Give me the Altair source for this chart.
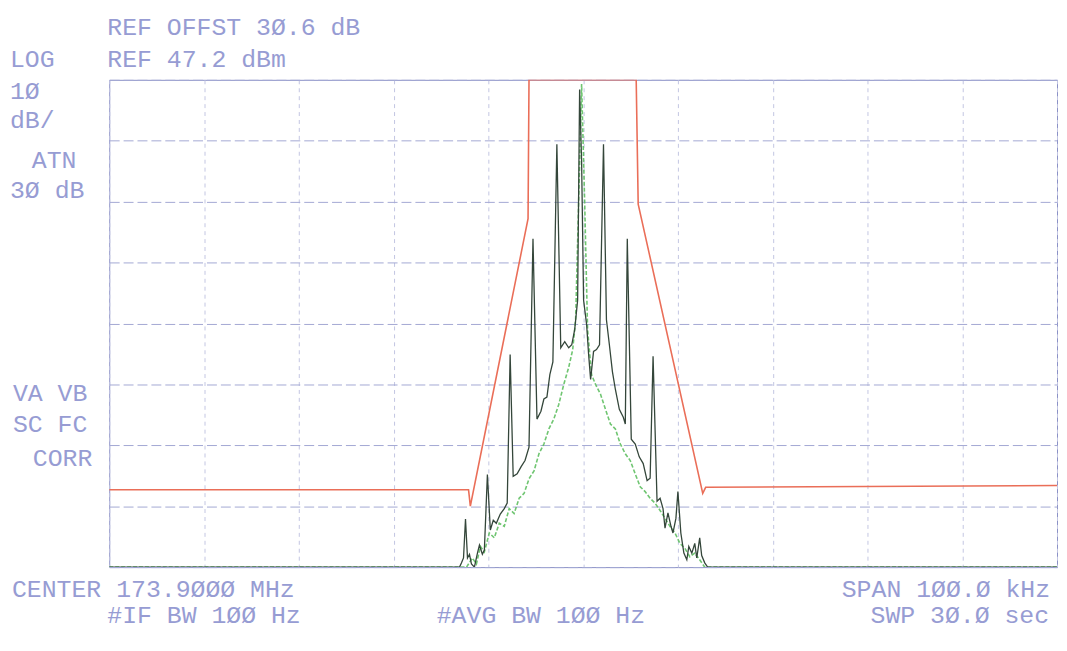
import altair as alt
import pandas as pd

# ---- values: frequency offset from centre (kHz), level (dBm) ----
mask_khz = [-50, -12.09, -11.9, -5.81, -5.71, 5.6, 5.81, 12.62, 12.93, 50]
mask_dbm = [-20.1, -20.1, -22.8, 24.4, 47.2, 47.2, 26.8, -20.7, -19.7, -19.4]

trace_khz = [-50, -13.04, -12.83, -12.62, -12.41, -12.20, -11.99, -11.78, -11.47, -11.15,
             -10.94, -10.63, -10.42, -10.10, -9.79, -9.48, -9.16, -8.74, -8.32, -8.01,
             -7.70, -7.38, -6.96, -6.54, -6.13, -5.71, -5.29, -4.87, -4.45, -4.14,
             -3.82, -3.51, -3.19, -2.77, -2.36, -1.94, -1.52, -1.20, -0.89, -0.58,
             -0.37, -0.16, 0.05, 0.37, 0.58, 0.79, 1.10, 1.41, 1.73, 2.15,
             2.46, 2.77, 3.09, 3.40, 3.82, 4.24, 4.45, 4.66, 5.08, 5.50,
             5.92, 6.34, 6.75, 7.07, 7.38, 7.80, 8.12, 8.43, 8.64, 8.95,
             9.27, 9.48, 9.79, 10.0, 10.31, 10.63, 10.94, 11.15, 11.47, 11.78,
             11.99, 12.30, 12.51, 12.83, 13.14, 50]
trace_dbm = [-32.8, -32.8, -32.1, -31.3, -24.9, -31.3, -30.7, -32.3, -32.8, -30.5,
             -29.2, -30.7, -30.0, -17.6, -26.7, -25.1, -25.6, -24.1, -23.2, -22.3,
             2.1, -17.9, -17.5, -16.3, -15.3, -13.1, 21.1, -8.5, -7.2, -5.2,
             -4.9, -1.2, 0.9, 36.6, 3.2, 4.2, 3.2, 3.7, 6.2, 11.0,
             45.6, 33.8, 11.0, 7.0, 2.1, -2.0, 2.6, 2.9, 3.7, 36.6,
             7.8, 3.7, -0.7, -3.6, -6.9, -8.2, -9.3, 21.1, -11.8, -12.6,
             -14.7, -15.8, -18.6, -18.2, 1.8, -22.0, -21.5, -23.2, -26.4, -23.9,
             -26.1, -27.2, -24.8, -20.4, -27.2, -30.5, -31.6, -29.4, -30.5, -28.9,
             -31.3, -28.0, -30.9, -32.1, -32.8, -32.8]

avg_khz = [-50, -12.30, -11.68, -11.26, -10.84, -10.42, -9.90, -9.37, -8.85, -8.32,
           -7.80, -7.28, -6.75, -6.23, -5.71, -5.18, -4.66, -4.14, -3.61, -3.09,
           -2.57, -2.04, -1.52, -1.10, -0.79, -0.47, -0.16, 0.16, 0.47, 0.89,
           1.31, 1.83, 2.36, 2.88, 3.40, 3.93, 4.45, 4.97, 5.50, 6.02,
           6.54, 7.07, 7.59, 8.12, 8.64, 9.16, 9.69, 10.21, 10.73, 11.26,
           11.78, 12.30, 12.83, 50]
avg_dbm = [-32.8, -32.8, -31.3, -32.3, -29.4, -30.3, -27.2, -28.0, -25.6, -26.1,
           -23.2, -24.0, -21.5, -20.7, -18.3, -17.0, -14.2, -12.6, -10.1, -8.5,
           -6.1, -2.8, 0.0, 2.9, 7.8, 27.3, 46.5, 27.3, 6.2, -1.2,
           -2.8, -4.4, -6.9, -9.3, -10.1, -12.6, -14.2, -15.3, -17.5, -19.6,
           -20.4, -21.5, -22.3, -23.5, -24.8, -26.1, -27.2, -28.9, -29.7, -31.1,
           -30.5, -31.6, -32.8, -32.8]

x_grid = [-50, -40, -30, -20, -10, 0, 10, 20, 30, 40, 50]
y_grid = [-32.8, -22.8, -12.8, -2.8, 7.2, 17.2, 27.2, 37.2, 47.2]

labels = ["REF OFFST 3Ø.6 dB", "LOG", "REF 47.2 dBm", "1Ø", "dB/", "ATN", "3Ø dB",
          "VA VB", "SC FC", "CORR",
          "CENTER 173.9ØØØ MHz", "SPAN 1ØØ.Ø kHz",
          "#IF BW 1ØØ Hz", "#AVG BW 1ØØ Hz", "SWP 3Ø.Ø  sec"]

# ---- layout (pixels relative to the plot area) ----
W, H = 955, 491
label_layout = [
    (-2, -45, "left"), (-100, -13, "left"), (-2, -13, "left"),
    (-100, 19, "left"), (-100, 49, "left"), (-78, 89, "left"), (-100, 119, "left"),
    (-97, 324, "left"), (-97, 355, "left"), (-77, 389, "left"),
    (-98, 521, "left"), (948, 521, "right"),
    (-2, 547, "left"), (330, 547, "left"), (947, 547, "right"),
]
TEXT_COLOR = "#8c92cf"
FONT = "Liberation Mono"
FONT_SIZE = 25

def frame(xs, ys):
    return pd.DataFrame({"khz": xs, "dbm": ys, "i": range(len(xs))})

x_axis = alt.Axis(values=x_grid, grid=True, labels=False, ticks=False, domain=False,
                  title=None, gridColor="#c3c6e2", gridDash=[4, 4], gridWidth=1)
y_axis = alt.Axis(values=y_grid, grid=True, labels=False, ticks=False, domain=False,
                  title=None, gridColor="#a3a8d4", gridDash=[10, 4], gridWidth=1)
xs = alt.Scale(domain=[-50, 50], nice=False, zero=False)
ys = alt.Scale(domain=[-32.8, 47.2], nice=False, zero=False)

def line_layer(df, color, width, dash=None, opacity=1.0):
    kw = dict(color=color, strokeWidth=width, opacity=opacity, clip=True)
    if dash:
        kw["strokeDash"] = dash
    return alt.Chart(df).mark_line(**kw).encode(
        x=alt.X("khz:Q", scale=xs, axis=x_axis),
        y=alt.Y("dbm:Q", scale=ys, axis=y_axis),
        order="i:Q",
    )

mask = line_layer(frame(mask_khz, mask_dbm), "#ea6e58", 1.6)
avg = line_layer(frame(avg_khz, avg_dbm), "#5fbf62", 1.6, dash=[4, 2], opacity=0.9)
trace = line_layer(frame(trace_khz, trace_dbm), "#34463a", 1.3)

texts = []
for txt, (px, py, al) in zip(labels, label_layout):
    texts.append(
        alt.Chart(alt.Data(values=[{"t": txt}])).mark_text(
            align=al, baseline="alphabetic", font=FONT, fontSize=FONT_SIZE,
            color=TEXT_COLOR, opacity=0.9, clip=False
        ).encode(x=alt.value(px), y=alt.value(py), text="t:N")
    )

chart = alt.layer(mask, avg, trace, *texts).properties(
    width=W, height=H,
    padding={"left": 102, "top": 70, "right": 2, "bottom": 60},
    autosize=alt.AutoSizeParams(type="none"),
    background="white",
).configure_view(stroke="#8a90c6", strokeWidth=1)

chart.save("out.html", embed_options={"renderer": "svg", "actions": False})
